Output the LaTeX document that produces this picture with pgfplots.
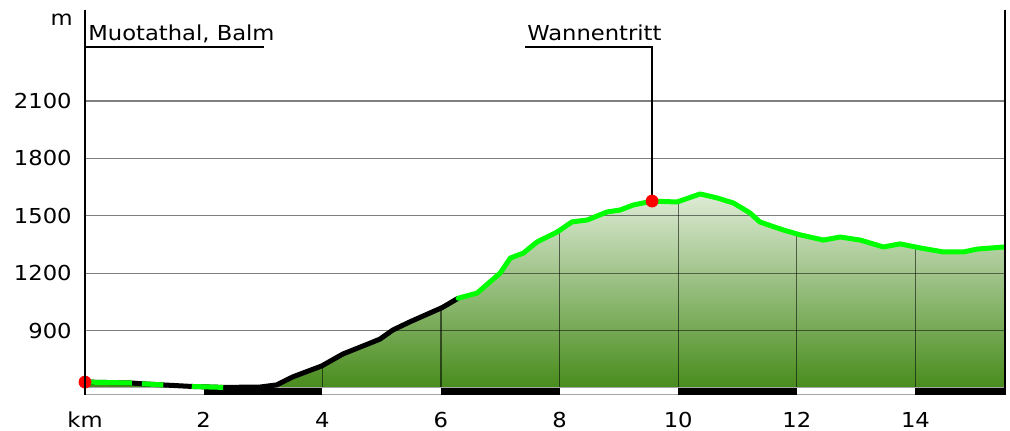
\documentclass[border=0pt]{standalone}
\usepackage{pgfplots}
\pgfplotsset{compat=1.18}
\usepackage{fontspec}
\setmainfont[FakeStretch=1.1]{DejaVu Sans}
\definecolor{profgreen}{RGB}{0,255,0}
\definecolor{fillbot}{RGB}{72,140,28}
\definecolor{filltop}{RGB}{222,235,214}
\begin{document}
\begin{tikzpicture}
\begin{axis}[
  at={(0,0)}, anchor=south west,
  width=460pt, height=192.5pt, scale only axis,
  xmin=0, xmax=15.51, ymin=563.4, ymax=2575.5,
  axis line style={draw=none},
  xtick={0,2,4,6,8,10,12,14},
  xticklabels={km,2,4,6,8,10,12,14},
  ytick={900,1200,1500,1800,2100},
  major tick length=0pt,
  tick label style={font=\fontsize{10.3}{12}\selectfont, inner sep=0pt},
  yticklabel style={anchor=east, xshift=-6.5pt},
  xticklabel style={anchor=base, yshift=-16.5pt},
  /pgf/number format/assume math mode=true,
  /pgf/number format/1000 sep={},
  clip mode=individual,
]
% filled area
\addplot[draw=none, shading=axis, bottom color=fillbot, top color=filltop] coordinates {
(0,600) (0,631) (0.79,626) (0.96,622) (1.32,616) (1.80,608) (2.33,603) (2.95,605) (3.23,616)
(3.51,659) (3.99,715) (4.35,778) (4.81,835) (4.97,855) (5.19,903) (5.48,946) (6.02,1020)
(6.29,1069) (6.61,1096) (7.0,1201) (7.17,1279) (7.39,1305) (7.62,1363) (7.96,1415)
(8.21,1468) (8.47,1478) (8.80,1520) (9.02,1530) (9.24,1556) (9.56,1577) (9.98,1572)
(10.37,1614) (10.66,1593) (10.93,1567) (11.21,1515) (11.38,1467) (11.77,1426) (12.06,1400)
(12.45,1373) (12.73,1389) (13.07,1373) (13.46,1337) (13.74,1353) (14.08,1332) (14.47,1311)
(14.81,1311) (15.04,1326) (15.50,1337) (15.50,600)} -- cycle;
% vertical grid lines inside the area
\addplot[ycomb, no marks, black, opacity=0.55, line width=0.6pt] coordinates {
(4,715) (6,1020) (8,1420) (10,1573) (12,1405) (14,1336)};
% horizontal grid lines
\draw[black, opacity=0.5, line width=0.6pt] (axis cs:0,900) -- (axis cs:15.51,900);
\draw[black, opacity=0.5, line width=0.6pt] (axis cs:0,1200) -- (axis cs:15.51,1200);
\draw[black, opacity=0.5, line width=0.6pt] (axis cs:0,1500) -- (axis cs:15.51,1500);
\draw[black, opacity=0.5, line width=0.6pt] (axis cs:0,1800) -- (axis cs:15.51,1800);
\draw[black, opacity=0.5, line width=0.6pt] (axis cs:0,2100) -- (axis cs:15.51,2100);
% bottom km strip
\draw[gray!70, fill=white, line width=0.5pt] (axis cs:0,563.4) rectangle (axis cs:15.51,600);
\fill[black] (axis cs:2,563.4) rectangle (axis cs:4,600);
\fill[black] (axis cs:6,563.4) rectangle (axis cs:8,600);
\fill[black] (axis cs:10,563.4) rectangle (axis cs:12,600);
\fill[black] (axis cs:14,563.4) rectangle (axis cs:15.51,600);
% profile: black part
\addplot[black, line width=2.5pt, line join=round, no marks] coordinates {
(0,631) (0.79,626) (0.96,622) (1.32,616) (1.80,608) (2.33,603) (2.95,605) (3.23,616)
(3.51,659) (3.99,715) (4.35,778) (4.81,835) (4.97,855) (5.19,903) (5.48,946) (6.02,1020)
(6.29,1069)};
% green dashes at the start
\addplot[profgreen, line width=2.5pt, no marks] coordinates {(0,631) (0.79,626)};
\addplot[profgreen, line width=2.5pt, no marks] coordinates {(0.96,622) (1.32,616)};
\addplot[profgreen, line width=2.5pt, no marks] coordinates {(1.80,608) (2.33,603)};
% profile: green part
\addplot[profgreen, line width=2.5pt, line join=round, line cap=round, no marks] coordinates {
(6.29,1069) (6.61,1096) (7.0,1201) (7.17,1279) (7.39,1305) (7.62,1363) (7.96,1415)
(8.21,1468) (8.47,1478) (8.80,1520) (9.02,1530) (9.24,1556) (9.56,1577) (9.98,1572)
(10.37,1614) (10.66,1593) (10.93,1567) (11.21,1515) (11.38,1467) (11.77,1426) (12.06,1400)
(12.45,1373) (12.73,1389) (13.07,1373) (13.46,1337) (13.74,1353) (14.08,1332) (14.47,1311)
(14.81,1311) (15.04,1326) (15.50,1337)};
% annotations
\draw[black, line width=1pt] (axis cs:0,2382) -- (axis cs:3.02,2382);
\draw[black, line width=1pt] (axis cs:7.42,2382) -- (axis cs:9.56,2382) -- (axis cs:9.56,1577);
\addplot[only marks, mark=*, mark size=3pt, red, mark options={draw=red, fill=red}] coordinates {(0,631) (9.56,1577)};
\node[anchor=base west, inner sep=0pt, font=\fontsize{10.3}{12}\selectfont] at (axis cs:0.05,2418) {Muotathal, Balm};
\node[anchor=base west, inner sep=0pt, font=\fontsize{10.3}{12}\selectfont] at (axis cs:7.45,2418) {Wannentritt};
\node[anchor=base east, inner sep=0pt, font=\fontsize{10.3}{12}\selectfont, xshift=-6pt] at (axis cs:0,2492) {m};
% axis side lines
\draw[black, line width=1pt] (rel axis cs:0,0) -- (rel axis cs:0,1);
\draw[black, line width=1pt] (rel axis cs:1,0) -- (rel axis cs:1,1);
\end{axis}
\pgfresetboundingbox
\path[use as bounding box] (-42.5pt,-18pt) rectangle (462.5pt,197.5pt);
\end{tikzpicture}
\end{document}
